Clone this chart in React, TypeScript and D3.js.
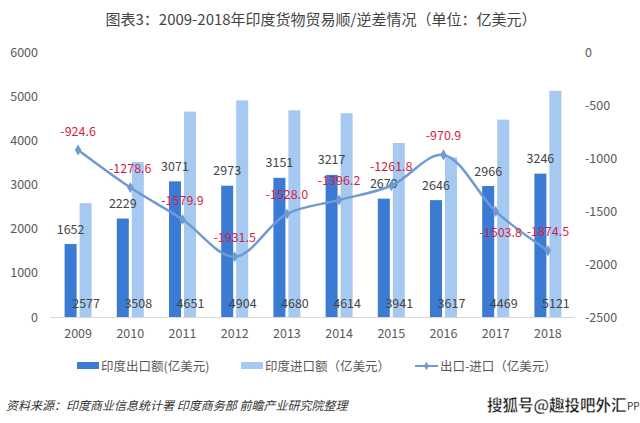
import React from "react";
import * as d3 from "d3";

const years = ["2009", "2010", "2011", "2012", "2013", "2014", "2015", "2016", "2017", "2018"];
const exportValues = [1652, 2229, 3071, 2973, 3151, 3217, 2679, 2646, 2966, 3246];
const importValues = [2577, 3508, 4651, 4904, 4680, 4614, 3941, 3617, 4469, 5121];
const balanceValues = [-924.6, -1278.6, -1579.9, -1931.5, -1528.0, -1396.2, -1261.8, -970.9, -1503.8, -1874.5];
const leftTicks = [0, 1000, 2000, 3000, 4000, 5000, 6000];
const rightTicks = [0, -500, -1000, -1500, -2000, -2500];
const belowLabelYears = ["2017"];

const title = "图表3：2009-2018年印度货物贸易顺/逆差情况（单位：亿美元）";
const legendLabels = ["印度出口额(亿美元)", "印度进口额（亿美元）", "出口-进口（亿美元）"];
const sourceText = "资料来源：印度商业信息统计署 印度商务部 前瞻产业研究院整理";
const watermark = "搜狐号@趣投吧外汇";

const W = 640;
const H = 423;
const FONT = "'Noto Sans CJK SC', 'Noto Sans', sans-serif";
const DARK = "#3b7bd4";
const LIGHT = "#a6c9f1";
const LINE = "#6e9bd2";
const RED = "#d21f48";
const TXT = "#444";

export default function App() {
  const x = d3.scaleBand<string>().domain(years).range([52, 574]).paddingInner(0).paddingOuter(0);
  const yL = d3.scaleLinear().domain([0, 6000]).range([317, 52]);
  const yR = d3.scaleLinear().domain([-2500, 0]).range([317, 52]);
  const cx = (y: string) => (x(y) as number) + x.bandwidth() / 2;
  const barW = 12;
  const gap = 1.5;

  const pts: [number, number][] = years.map((yr, i) => [cx(yr), yR(balanceValues[i])]);
  const line = d3.line().curve(d3.curveCatmullRom.alpha(0.5))(pts) || "";
  const diamond = d3.symbol().type(d3.symbolDiamond).size(36)() || "";
  const fmt = (v: number) => v.toFixed(1);

  return (
    <svg width={W} height={H} style={{ position: "absolute", left: 0, top: 0, background: "#fff" }} fontFamily={FONT}>
      <rect x={0} y={0} width={W} height={H} fill="#fff" />
      <text x={321} y={25} textAnchor="middle" fontSize={15} fill="#444">{title}</text>

      {/* left axis */}
      {leftTicks.map((t) => (
        <text key={"l" + t} x={38} y={yL(t) + 4.5} textAnchor="end" fontSize={12.5} fill="#595959">{t}</text>
      ))}
      {/* right axis */}
      {rightTicks.map((t) => (
        <text key={"r" + t} x={585} y={yR(t) + 4.5} textAnchor="start" fontSize={12.5} fill="#595959">{t}</text>
      ))}

      {/* bars */}
      {years.map((yr, i) => (
        <g key={"b" + yr}>
          <rect x={cx(yr) - gap - barW} y={yL(exportValues[i])} width={barW} height={yL(0) - yL(exportValues[i])} fill={DARK} />
          <rect x={cx(yr) + gap} y={yL(importValues[i])} width={barW} height={yL(0) - yL(importValues[i])} fill={LIGHT} />
        </g>
      ))}
      <line x1={50} x2={575} y1={yL(0) + 0.5} y2={yL(0) + 0.5} stroke="#d9d9d9" strokeWidth={1} />

      {/* bar labels */}
      {years.map((yr, i) => (
        <g key={"bl" + yr} fontSize={12.5} fill={TXT} textAnchor="middle">
          <text x={cx(yr) - gap - barW / 2} y={yL(exportValues[i]) - 10.5}>{exportValues[i]}</text>
          <text x={cx(yr) + gap + barW / 2 + 0.5} y={yL(0) - 9.5}>{importValues[i]}</text>
        </g>
      ))}

      {/* x labels */}
      {years.map((yr) => (
        <text key={"x" + yr} x={cx(yr)} y={337.5} textAnchor="middle" fontSize={12.5} fill="#595959">{yr}</text>
      ))}

      {/* line */}
      <path d={line} fill="none" stroke={LINE} strokeWidth={2.5} />
      {pts.map((p, i) => (
        <path key={"m" + i} d={diamond} transform={`translate(${p[0]},${p[1]})`} fill={LINE} />
      ))}
      {years.map((yr, i) => {
        const below = belowLabelYears.includes(yr);
        return (
          <text key={"rl" + yr} x={pts[i][0] + (below ? 5 : 0)} y={below ? pts[i][1] + 26 : pts[i][1] - 14.5}
            textAnchor="middle" fontSize={12.5} fill={RED}>{fmt(balanceValues[i])}</text>
        );
      })}

      {/* legend */}
      <rect x={77} y={362} width={22} height={7} fill={DARK} />
      <text x={101} y={370.5} fontSize={12.5} fill="#595959">{legendLabels[0]}</text>
      <rect x={241} y={362} width={22} height={7} fill={LIGHT} />
      <text x={265} y={370.5} fontSize={12.5} fill="#595959">{legendLabels[1]}</text>
      <line x1={415} x2={438} y1={366} y2={366} stroke={LINE} strokeWidth={2} />
      <path d={d3.symbol().type(d3.symbolDiamond).size(22)() || ""} transform="translate(426.5,366)" fill={LINE} />
      <text x={440} y={370.5} fontSize={12.5} fill="#595959">{legendLabels[2]}</text>

      {/* footer */}
      <text x={6} y={409.5} fontSize={12} fontStyle="italic" fill="#333">{sourceText}</text>
      <text x={487} y={411} fontSize={15.5} fontWeight="bold" fill="#111" stroke="#fff" strokeWidth={0.4}>{watermark}</text>
      <text x={627} y={410} fontSize={10} fill="#333">PP</text>
    </svg>
  );
}
